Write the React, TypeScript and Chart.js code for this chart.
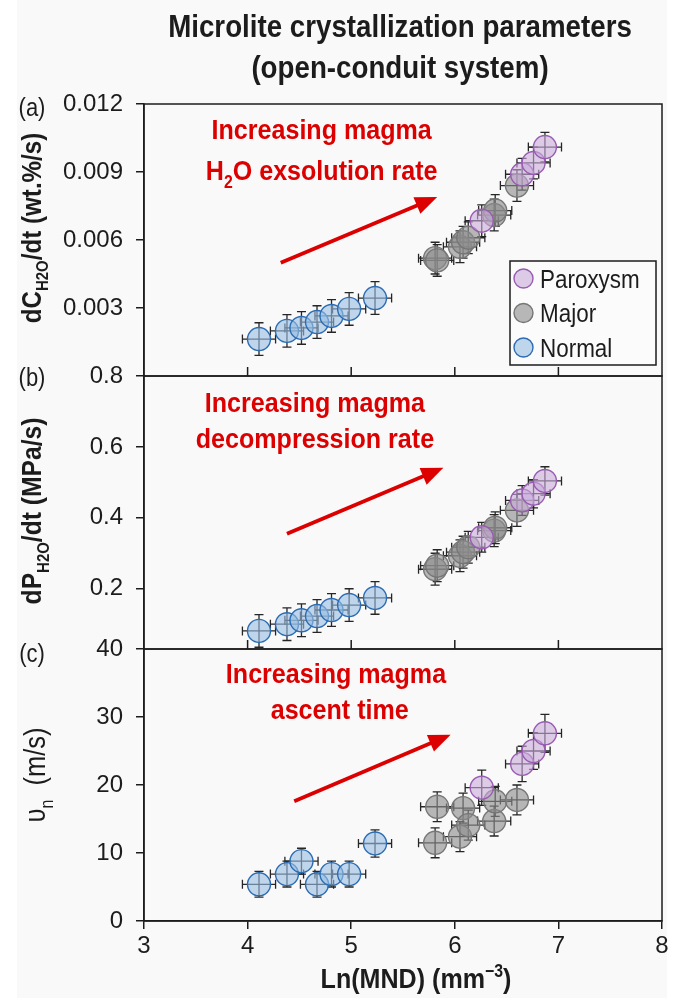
import React, { useEffect, useRef } from 'react';
import { Chart, registerables } from 'chart.js';

Chart.register(...registerables);

// ---------------- data ----------------
const groupLabels = ['Paroxysm', 'Major', 'Normal'];

// Ln(MND) (mm^-3), shared by the three panels
const lnMNDParoxysm = [6.26, 6.65, 6.76, 6.87];
const lnMNDMajor = [5.81, 5.83, 6.05, 6.08, 6.13, 6.38, 6.39, 6.6];
const lnMNDNormal = [4.11, 4.38, 4.52, 4.67, 4.81, 4.98, 5.23];

const lnMNDErrParoxysm = [0.16, 0.16, 0.16, 0.16];
const lnMNDErrMajor = [0.16, 0.16, 0.16, 0.16, 0.16, 0.16, 0.16, 0.16];
const lnMNDErrNormal = [0.16, 0.16, 0.16, 0.16, 0.16, 0.16, 0.16];

// (a) dC_H2O/dt (wt.%/s)
const dCParoxysm = [0.00685, 0.0089, 0.0094, 0.0101];
const dCMajor = [0.0052, 0.0051, 0.0057, 0.0059, 0.0061, 0.0071, 0.0073, 0.0084];
const dCNormal = [0.00163, 0.00199, 0.00212, 0.00238, 0.00265, 0.00296, 0.00344];
const dCErrParoxysm = [0.0007, 0.0007, 0.0007, 0.00065];
const dCErrMajor = [0.0007, 0.0007, 0.0007, 0.0007, 0.0007, 0.0007, 0.0007, 0.0007];
const dCErrNormal = [0.00072, 0.00072, 0.00072, 0.00072, 0.00072, 0.00072, 0.00072];

// (b) dP_H2O/dt (MPa/s)
const dPParoxysm = [0.345, 0.449, 0.468, 0.504];
const dPMajor = [0.255, 0.265, 0.293, 0.303, 0.317, 0.364, 0.372, 0.421];
const dPNormal = [0.081, 0.1, 0.111, 0.123, 0.14, 0.154, 0.174];
const dPErrParoxysm = [0.042, 0.042, 0.04, 0.04];
const dPErrMajor = [0.045, 0.045, 0.045, 0.045, 0.045, 0.045, 0.045, 0.045];
const dPErrNormal = [0.046, 0.046, 0.046, 0.046, 0.046, 0.046, 0.046];

// (c) u_n (m/s)
const unParoxysm = [19.6, 23.1, 25.0, 27.6];
const unMajor = [11.5, 16.8, 12.4, 16.6, 14.1, 14.7, 17.6, 17.8];
const unNormal = [5.4, 6.9, 8.8, 5.4, 6.9, 6.9, 11.4];
const unErrParoxysm = [2.6, 2.6, 2.7, 2.8];
const unErrMajor = [2.2, 2.2, 2.2, 2.2, 2.2, 2.2, 2.2, 2.2];
const unErrNormal = [1.9, 1.9, 1.9, 1.9, 1.9, 1.9, 2.0];

// tick values
const xTicks = [3, 4, 5, 6, 7, 8];
const xInnerTicks = [4, 5, 6, 7];
const yTicksA = [0.003, 0.006, 0.009, 0.012];
const yTicksB = [0.2, 0.4, 0.6, 0.8];
const yTicksC = [0, 10, 20, 30, 40];

// ---------------- styles ----------------
const FONT = "'Liberation Sans', Arial, sans-serif";
const NARROW = 0.88; // horizontal compression to mimic a narrow face
const INK = '#1c1c1c';
const RED = '#dc0000';
const W = 676;
const H = 998;

const groupStyles = [
  { bg: 'rgba(200,170,218,0.6)', border: 'rgb(152,92,176)' },
  { bg: 'rgba(140,140,140,0.62)', border: 'rgb(118,118,118)' },
  { bg: 'rgba(150,188,226,0.6)', border: 'rgb(44,108,178)' },
];

type Part = { t: string; sub?: boolean; sup?: boolean };

const panels = [
  {
    id: 'a',
    yMin: 0,
    yMax: 0.012,
    yTicks: yTicksA,
    decimals: 3,
    top: 104,
    bottom: 376,
    values: [dCParoxysm, dCMajor, dCNormal],
    errors: [dCErrParoxysm, dCErrMajor, dCErrNormal],
    label: '(a)',
    labelY: 116,
    yTitle: [{ t: 'dC' }, { t: 'H2O', sub: true }, { t: '/dt (wt.%/s)' }] as Part[],
    yTitleY: 228,
    yTitleX: 41,
    yTitleSize: 27.5,
    yTitleWeight: 'bold',
    notes: [
      { parts: [{ t: 'Increasing magma' }] as Part[], x: 4.715, y: 0.01044 },
      { parts: [{ t: 'H' }, { t: '2', sub: true }, { t: 'O exsolution rate' }] as Part[], x: 4.715, y: 0.00865 },
    ],
    arrow: { x0: 4.32, y0: 0.005, x1: 5.83, y1: 0.0079 },
    legend: true,
    innerTicks: true,
    showX: false,
  },
  {
    id: 'b',
    yMin: 0.03,
    yMax: 0.8,
    yTicks: yTicksB,
    decimals: 1,
    top: 376,
    bottom: 649,
    values: [dPParoxysm, dPMajor, dPNormal],
    errors: [dPErrParoxysm, dPErrMajor, dPErrNormal],
    label: '(b)',
    labelY: 386,
    yTitle: [{ t: 'dP' }, { t: 'H2O', sub: true }, { t: '/dt (MPa/s)' }] as Part[],
    yTitleY: 511,
    yTitleX: 41,
    yTitleSize: 28,
    yTitleWeight: 'bold',
    notes: [
      { parts: [{ t: 'Increasing magma' }] as Part[], x: 4.65, y: 0.699 },
      { parts: [{ t: 'decompression rate' }] as Part[], x: 4.65, y: 0.596 },
    ],
    arrow: { x0: 4.38, y0: 0.355, x1: 5.89, y1: 0.541 },
    legend: false,
    innerTicks: true,
    showX: false,
  },
  {
    id: 'c',
    yMin: 0,
    yMax: 40,
    yTicks: yTicksC,
    decimals: 0,
    top: 649,
    bottom: 921,
    values: [unParoxysm, unMajor, unNormal],
    errors: [unErrParoxysm, unErrMajor, unErrNormal],
    label: '(c)',
    labelY: 662,
    yTitle: [{ t: '\u03c5' }, { t: 'n', sub: true }, { t: '  (m/s)' }] as Part[],
    yTitleY: 775,
    yTitleX: 45,
    yTitleSize: 29,
    yTitleWeight: 'normal',
    notes: [
      { parts: [{ t: 'Increasing magma' }] as Part[], x: 4.853, y: 35.06 },
      { parts: [{ t: 'ascent time' }] as Part[], x: 4.889, y: 29.7 },
    ],
    arrow: { x0: 4.45, y0: 17.6, x1: 5.96, y1: 27.4 },
    legend: false,
    innerTicks: false,
    showX: true,
  },
];

const lnMNDGroups = [lnMNDParoxysm, lnMNDMajor, lnMNDNormal];
const lnMNDErrGroups = [lnMNDErrParoxysm, lnMNDErrMajor, lnMNDErrNormal];

// ---------------- drawing helpers ----------------
function drawRich(
  ctx: CanvasRenderingContext2D,
  parts: Part[],
  x: number,
  y: number,
  size: number,
  weight: string,
  color: string,
  align: 'center' | 'left' = 'center',
  rotate = false
) {
  ctx.save();
  ctx.translate(x, y);
  if (rotate) ctx.rotate(-Math.PI / 2);
  ctx.scale(NARROW, 1);
  const mainFont = `${weight} ${size}px ${FONT}`;
  const small = Math.round(size * 0.62);
  const smallFont = `${weight} ${small}px ${FONT}`;
  let total = 0;
  const widths = parts.map((p) => {
    ctx.font = p.sub || p.sup ? smallFont : mainFont;
    const w = ctx.measureText(p.t).width;
    total += w;
    return w;
  });
  let cx = align === 'center' ? -total / 2 : 0;
  ctx.fillStyle = color;
  ctx.textAlign = 'left';
  ctx.textBaseline = 'alphabetic';
  parts.forEach((p, i) => {
    ctx.font = p.sub || p.sup ? smallFont : mainFont;
    const dy = p.sub ? size * 0.27 : p.sup ? -size * 0.4 : 0;
    ctx.fillText(p.t, cx, dy);
    cx += widths[i];
  });
  ctx.restore();
}

function drawArrow(ctx: CanvasRenderingContext2D, x0: number, y0: number, x1: number, y1: number) {
  const ang = Math.atan2(y1 - y0, x1 - x0);
  const headLen = 22;
  const headHalf = 9;
  const bx = x1 - Math.cos(ang) * headLen;
  const by = y1 - Math.sin(ang) * headLen;
  ctx.save();
  ctx.strokeStyle = RED;
  ctx.fillStyle = RED;
  ctx.lineWidth = 3.8;
  ctx.beginPath();
  ctx.moveTo(x0, y0);
  ctx.lineTo(bx + Math.cos(ang) * 2, by + Math.sin(ang) * 2);
  ctx.stroke();
  ctx.beginPath();
  ctx.moveTo(x1, y1);
  ctx.lineTo(bx - Math.sin(ang) * headHalf, by + Math.cos(ang) * headHalf);
  ctx.lineTo(bx + Math.sin(ang) * headHalf, by - Math.cos(ang) * headHalf);
  ctx.closePath();
  ctx.fill();
  ctx.restore();
}

const overlayPlugin = {
  id: 'overlay',
  beforeDatasetsDraw(chart: any) {
    const ctx: CanvasRenderingContext2D = chart.ctx;
    const xs = chart.scales.x;
    const ys = chart.scales.y;
    ctx.save();
    ctx.strokeStyle = '#262626';
    ctx.lineWidth = 1.3;
    const cap = 4.5;
    chart.data.datasets.forEach((ds: any) => {
      ds.data.forEach((pt: any, i: number) => {
        const px = xs.getPixelForValue(pt.x);
        const py = ys.getPixelForValue(pt.y);
        const xl = xs.getPixelForValue(pt.x - ds.xErr[i]);
        const xr = xs.getPixelForValue(pt.x + ds.xErr[i]);
        const yt = ys.getPixelForValue(pt.y + ds.yErr[i]);
        const yb = ys.getPixelForValue(pt.y - ds.yErr[i]);
        ctx.beginPath();
        ctx.moveTo(xl, py);
        ctx.lineTo(xr, py);
        ctx.moveTo(px, yt);
        ctx.lineTo(px, yb);
        ctx.moveTo(xl, py - cap);
        ctx.lineTo(xl, py + cap);
        ctx.moveTo(xr, py - cap);
        ctx.lineTo(xr, py + cap);
        ctx.moveTo(px - cap, yt);
        ctx.lineTo(px + cap, yt);
        ctx.moveTo(px - cap, yb);
        ctx.lineTo(px + cap, yb);
        ctx.stroke();
      });
    });
    ctx.restore();
  },
  afterDraw(chart: any) {
    const ctx: CanvasRenderingContext2D = chart.ctx;
    const p = chart.options.plugins.overlay.panel;
    const area = chart.chartArea;
    const xs = chart.scales.x;
    const ys = chart.scales.y;

    // frame
    ctx.save();
    ctx.strokeStyle = INK;
    ctx.lineWidth = 1.5;
    ctx.strokeRect(area.left, area.top, area.right - area.left, area.bottom - area.top);
    if (p.innerTicks) {
      ctx.beginPath();
      xInnerTicks.forEach((v) => {
        const x = xs.getPixelForValue(v);
        ctx.moveTo(x, area.bottom);
        ctx.lineTo(x, area.bottom - 9);
      });
      ctx.stroke();
    }
    ctx.restore();

    // annotation texts and arrow
    p.notes.forEach((n: any) => {
      drawRich(ctx, n.parts, xs.getPixelForValue(n.x), ys.getPixelForValue(n.y), 28.5, 'bold', RED);
    });
    drawArrow(
      ctx,
      xs.getPixelForValue(p.arrow.x0),
      ys.getPixelForValue(p.arrow.y0),
      xs.getPixelForValue(p.arrow.x1),
      ys.getPixelForValue(p.arrow.y1)
    );

    // panel label and y title
    drawRich(ctx, [{ t: p.label }], 32, p.labelY, 25, 'normal', INK);
    drawRich(ctx, p.yTitle, p.yTitleX, p.yTitleY, p.yTitleSize, p.yTitleWeight, INK, 'center', true);

    // legend
    if (p.legend) {
      const bx = area.right - 152;
      const by = area.bottom - 115;
      const bw = 146;
      const bh = 104;
      ctx.save();
      ctx.fillStyle = '#fbfbfb';
      ctx.fillRect(bx, by, bw, bh);
      ctx.strokeStyle = INK;
      ctx.lineWidth = 1.5;
      ctx.strokeRect(bx, by, bw, bh);
      chart.data.datasets.forEach((ds: any, i: number) => {
        const cy = by + 17.5 + i * 34.5;
        ctx.beginPath();
        ctx.arc(bx + 13.5, cy, 9.5, 0, Math.PI * 2);
        ctx.fillStyle = ds.backgroundColor;
        ctx.fill();
        ctx.lineWidth = 1.4;
        ctx.strokeStyle = ds.borderColor;
        ctx.stroke();
        drawRich(ctx, [{ t: ds.label }], bx + 30, cy + 9, 25.5, 'normal', INK, 'left');
      });
      ctx.restore();
    }

    // figure title and x title
    if (p.id === 'a') {
      drawRich(ctx, [{ t: 'Microlite crystallization parameters' }], 400, 37, 31.5, 'bold', INK);
      drawRich(ctx, [{ t: '(open-conduit system)' }], 400, 78, 31.5, 'bold', INK);
    }
    if (p.showX) {
      drawRich(ctx, [{ t: 'Ln(MND) (mm' }, { t: '\u22123', sup: true }, { t: ')' }], 416, 988, 28.5, 'bold', INK);
    }
  },
};

function buildConfig(p: any): any {
  const tickFont = { family: FONT, size: 24 };
  return {
    type: 'scatter',
    data: {
      datasets: groupLabels.map((label, g) => ({
        label,
        data: lnMNDGroups[g].map((x, i) => ({ x, y: p.values[g][i] })),
        xErr: lnMNDErrGroups[g],
        yErr: p.errors[g],
        backgroundColor: groupStyles[g].bg,
        borderColor: groupStyles[g].border,
        borderWidth: 1.4,
        pointRadius: 11.5,
        pointHoverRadius: 11.5,
      })),
    },
    options: {
      animation: false,
      responsive: false,
      devicePixelRatio: 1,
      events: [],
      layout: {
        padding: { left: 0, right: W - 662, top: p.top, bottom: p.showX ? 0 : H - p.bottom },
      },
      plugins: {
        legend: { display: false },
        tooltip: { enabled: false },
        title: { display: false },
        overlay: { panel: p },
      },
      scales: {
        x: p.showX
          ? {
              type: 'linear',
              min: 3,
              max: 8,
              afterBuildTicks: (s: any) => {
                s.ticks = xTicks.map((v) => ({ value: v }));
              },
              afterFit: (s: any) => {
                s.height = H - p.bottom;
              },
              ticks: { font: tickFont, color: INK, padding: 3, maxRotation: 0, autoSkip: false },
              grid: { drawOnChartArea: false, drawTicks: true, tickLength: 8, color: INK, lineWidth: 1.5 },
              border: { display: true, color: INK, width: 1.5 },
            }
          : { type: 'linear', min: 3, max: 8, display: false },
        y: {
          type: 'linear',
          min: p.yMin,
          max: p.yMax,
          afterBuildTicks: (s: any) => {
            s.ticks = p.yTicks.map((v: number) => ({ value: v }));
          },
          afterFit: (s: any) => {
            s.width = 144;
          },
          ticks: {
            font: tickFont,
            color: INK,
            padding: 13,
            callback: (v: any) => Number(v).toFixed(p.decimals),
          },
          grid: { drawOnChartArea: false, drawTicks: true, tickLength: 8, color: INK, lineWidth: 1.5 },
          border: { display: true, color: INK, width: 1.5 },
        },
      },
    },
    plugins: [overlayPlugin],
  };
}

export default function App() {
  const r0 = useRef<HTMLCanvasElement>(null);
  const r1 = useRef<HTMLCanvasElement>(null);
  const r2 = useRef<HTMLCanvasElement>(null);
  const refs = [r0, r1, r2];
  useEffect(() => {
    const charts = panels.map((p, i) => new Chart(refs[i].current as HTMLCanvasElement, buildConfig(p)));
    return () => charts.forEach((c) => c.destroy());
  }, []);
  return (
    <div style={{ position: 'absolute', left: 0, top: 0, width: W, height: H, background: '#ffffff', overflow: 'hidden' }}>
      <div style={{ position: 'absolute', left: 17, top: 0, width: 650, height: H, background: '#f9f9f9' }} />
      {panels.map((p, i) => (
        <canvas
          key={p.id}
          ref={refs[i]}
          width={W}
          height={H}
          style={{ position: 'absolute', left: 0, top: 0, width: W, height: H }}
        />
      ))}
    </div>
  );
}
